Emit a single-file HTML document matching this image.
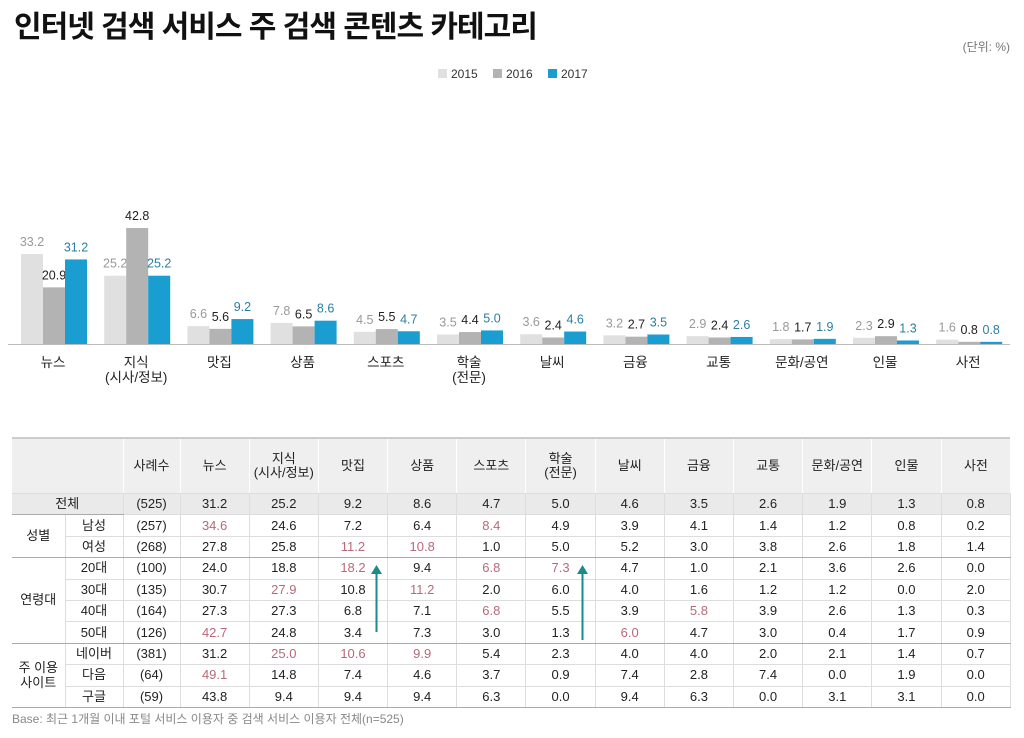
<!DOCTYPE html>
<html><head><meta charset="utf-8"><style>
body{margin:0;width:1024px;height:738px;background:#fff;font-family:"Liberation Sans","Noto Sans CJK KR",sans-serif;position:relative;overflow:hidden;color:#222}
.t{position:absolute;left:14px;top:2px;font-size:30px;font-weight:bold;letter-spacing:-1px;color:#111}
.unit{position:absolute;right:14px;top:38px;font-size:12px;color:#777}
table{position:absolute;left:12px;top:437px;width:998px;table-layout:fixed;border-collapse:collapse;font-size:13px}
td{text-align:center;height:20.4px;padding:0;border-bottom:1px solid #ddd;border-right:1px solid #ddd;line-height:14px;overflow:hidden;white-space:nowrap}
tr.h td{height:54px;background:#efefef;border-right:1px solid #fff;border-top:2px solid #ccc}
tr.tot td{background:#eaeaea}
.r{color:#b86a78}
.g{border-bottom:1px solid #aaa}
.base{position:absolute;left:12px;top:710px;font-size:12px;color:#888}
</style></head><body>
<div class="t">인터넷 검색 서비스 주 검색 콘텐츠 카테고리</div>
<div class="unit">(단위: %)</div>
<svg width="1024" height="430" style="position:absolute;left:0;top:0" font-family="Liberation Sans, Noto Sans CJK KR, sans-serif">
<rect x="438" y="69" width="9" height="9" fill="#e0e0e0"/><text x="451" y="78" font-size="12" fill="#333">2015</text>
<rect x="493" y="69" width="9" height="9" fill="#b3b3b3"/><text x="506" y="78" font-size="12" fill="#333">2016</text>
<rect x="548" y="69" width="9" height="9" fill="#1a9dd0"/><text x="561" y="78" font-size="12" fill="#333">2017</text>
<line x1="8" y1="344.5" x2="1010" y2="344.5" stroke="#bbb"/>
<g id="bars"></g>
</svg>
<script>
var d=[["뉴스",33.2,20.9,31.2],["지식|(시사/정보)",25.2,42.8,25.2],["맛집",6.6,5.6,9.2],["상품",7.8,6.5,8.6],["스포츠",4.5,5.5,4.7],["학술|(전문)",3.5,4.4,5.0],["날씨",3.6,2.4,4.6],["금융",3.2,2.7,3.5],["교통",2.9,2.4,2.6],["문화/공연",1.8,1.7,1.9],["인물",2.3,2.9,1.3],["사전",1.6,0.8,0.8]];
var s="",cols=["#e0e0e0","#b3b3b3","#1a9dd0"],tc=["#999","#222","#2a7fa0"];
d.forEach(function(r,i){var c=53+i*83.2;
for(var k=0;k<3;k++){var h=r[k+1]*2.71,x=c-32+k*22;
s+='<rect x="'+x+'" y="'+(344-h)+'" width="22" height="'+h+'" fill="'+cols[k]+'"/>';
s+='<text x="'+(x+11)+'" y="'+(344-h-8)+'" font-size="12.5" text-anchor="middle" fill="'+tc[k]+'">'+r[k+1].toFixed(1)+'</text>';}
var L=r[0].split("|");L.forEach(function(l,j){s+='<text x="'+c+'" y="'+(367+j*15)+'" font-size="13.5" text-anchor="middle" fill="#222">'+l+'</text>';});});
document.getElementById("bars").innerHTML=s;
</script>
<table>
<colgroup><col style="width:53px"><col style="width:58px"><col style="width:57px"><col span="12" style="width:69.2px"></colgroup>
<tr class="h"><td colspan="2"></td><td>사례수</td><td>뉴스</td><td>지식<br>(시사/정보)</td><td>맛집</td><td>상품</td><td>스포츠</td><td>학술<br>(전문)</td><td>날씨</td><td>금융</td><td>교통</td><td>문화/공연</td><td>인물</td><td style="border-right:none">사전</td></tr>
<tr class="tot"><td colspan="2" class="g">전체</td><td>(525)</td><td>31.2</td><td>25.2</td><td>9.2</td><td>8.6</td><td>4.7</td><td>5.0</td><td>4.6</td><td>3.5</td><td>2.6</td><td>1.9</td><td>1.3</td><td>0.8</td></tr>
<tr><td rowspan="2" class="g">성별</td><td>남성</td><td>(257)</td><td class="r">34.6</td><td>24.6</td><td>7.2</td><td>6.4</td><td class="r">8.4</td><td>4.9</td><td>3.9</td><td>4.1</td><td>1.4</td><td>1.2</td><td>0.8</td><td>0.2</td></tr>
<tr><td class="g">여성</td><td class="g">(268)</td><td class="g">27.8</td><td class="g">25.8</td><td class="g r">11.2</td><td class="g r">10.8</td><td class="g">1.0</td><td class="g">5.0</td><td class="g">5.2</td><td class="g">3.0</td><td class="g">3.8</td><td class="g">2.6</td><td class="g">1.8</td><td class="g">1.4</td></tr>
<tr><td rowspan="4" class="g">연령대</td><td>20대</td><td>(100)</td><td>24.0</td><td>18.8</td><td class="r">18.2</td><td>9.4</td><td class="r">6.8</td><td class="r">7.3</td><td>4.7</td><td>1.0</td><td>2.1</td><td>3.6</td><td>2.6</td><td>0.0</td></tr>
<tr><td>30대</td><td>(135)</td><td>30.7</td><td class="r">27.9</td><td>10.8</td><td class="r">11.2</td><td>2.0</td><td>6.0</td><td>4.0</td><td>1.6</td><td>1.2</td><td>1.2</td><td>0.0</td><td>2.0</td></tr>
<tr><td>40대</td><td>(164)</td><td>27.3</td><td>27.3</td><td>6.8</td><td>7.1</td><td class="r">6.8</td><td>5.5</td><td>3.9</td><td class="r">5.8</td><td>3.9</td><td>2.6</td><td>1.3</td><td>0.3</td></tr>
<tr><td class="g">50대</td><td class="g">(126)</td><td class="g r">42.7</td><td class="g">24.8</td><td class="g">3.4</td><td class="g">7.3</td><td class="g">3.0</td><td class="g">1.3</td><td class="g r">6.0</td><td class="g">4.7</td><td class="g">3.0</td><td class="g">0.4</td><td class="g">1.7</td><td class="g">0.9</td></tr>
<tr><td rowspan="3" class="g" style="line-height:15px;white-space:normal">주 이용<br>사이트</td><td>네이버</td><td>(381)</td><td>31.2</td><td class="r">25.0</td><td class="r">10.6</td><td class="r">9.9</td><td>5.4</td><td>2.3</td><td>4.0</td><td>4.0</td><td>2.0</td><td>2.1</td><td>1.4</td><td>0.7</td></tr>
<tr><td>다음</td><td>(64)</td><td class="r">49.1</td><td>14.8</td><td>7.4</td><td>4.6</td><td>3.7</td><td>0.9</td><td>7.4</td><td>2.8</td><td>7.4</td><td>0.0</td><td>1.9</td><td>0.0</td></tr>
<tr><td class="g">구글</td><td class="g">(59)</td><td class="g">43.8</td><td class="g">9.4</td><td class="g">9.4</td><td class="g">9.4</td><td class="g">6.3</td><td class="g">0.0</td><td class="g">9.4</td><td class="g">6.3</td><td class="g">0.0</td><td class="g">3.1</td><td class="g">3.1</td><td class="g">0.0</td></tr>
</table>
<svg width="1024" height="738" style="position:absolute;left:0;top:0">
<line x1="376.5" y1="632" x2="376.5" y2="572" stroke="#1a8a8a" stroke-width="2"/><polygon points="371,574 382,574 376.5,565" fill="#1a8a8a"/>
<line x1="582.5" y1="640" x2="582.5" y2="572" stroke="#1a8a8a" stroke-width="2"/><polygon points="577,574 588,574 582.5,565" fill="#1a8a8a"/>
</svg>
<div class="base">Base: 최근 1개월 이내 포털 서비스 이용자 중 검색 서비스 이용자 전체(n=525)</div>
</body></html>
